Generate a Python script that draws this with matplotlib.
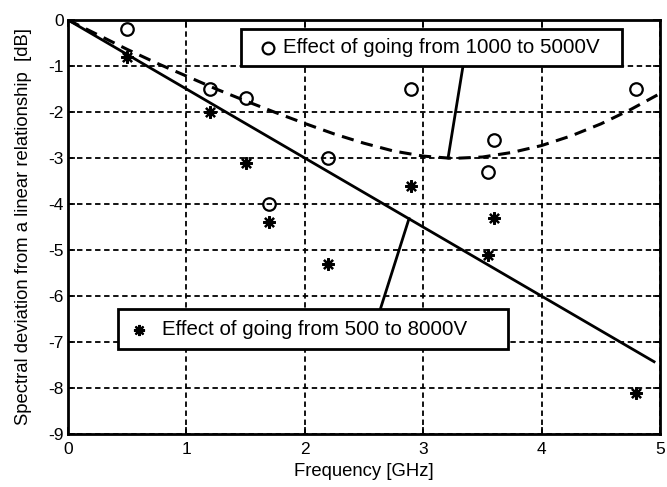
import numpy as np
import matplotlib.pyplot as plt

plt.rcParams['font.family'] = ['Liberation Sans', 'DejaVu Sans']
plt.rcParams['axes.unicode_minus'] = False  # plain hyphen minus like the original

# 1000 -> 5000V (circles)
freq_a = [0.5, 1.2, 1.5, 1.7, 2.2, 2.9, 3.55, 3.6, 4.8]
dev_a = [-0.2, -1.5, -1.7, -4.0, -3.0, -1.5, -3.3, -2.6, -1.5]
# 500 -> 8000V (stars)
freq_b = [0.5, 1.2, 1.5, 1.7, 2.2, 2.9, 3.55, 3.6, 4.8]
dev_b = [-0.8, -2.0, -3.1, -4.4, -5.3, -3.6, -5.1, -4.3, -8.1]

# fitted curves
curve_a_x = [0, 0.25, 0.5, 0.75, 1.0, 1.25, 1.5, 1.75, 2.0, 2.25, 2.5,
             2.75, 3.0, 3.25, 3.5, 3.75, 4.0, 4.25, 4.5, 4.75, 5.0]
curve_a_y = [0, -0.32, -0.64, -0.94, -1.22, -1.50, -1.76, -2.01, -2.25, -2.48, -2.68,
             -2.85, -2.96, -3.01, -2.98, -2.88, -2.73, -2.52, -2.26, -1.95, -1.60]
line_b_x = [0, 4.95]
line_b_y = [0, -7.43]

fig = plt.figure(figsize=(6.67, 4.87), dpi=100)
ax = fig.add_axes([0.102, 0.109, 0.8875, 0.85])

ax.plot(curve_a_x, curve_a_y, color='black', lw=2.2, dashes=(4, 2.5))
ax.plot(line_b_x, line_b_y, color='black', lw=2)
ax.plot(freq_a, dev_a, 'o', mfc='none', mec='black', ms=9, mew=1.6)
ax.plot(freq_b, dev_b, ls='none', marker=(8, 2, 0), color='black', ms=9, mew=1.6)

ax.set_xlim(0, 5)
ax.set_ylim(-9, 0)
ax.set_xticks(np.arange(0, 6, 1))
ax.set_yticks(np.arange(-9, 1, 1))
ax.grid(True, color='black', ls=(0, (3, 2)), lw=1.3)
ax.tick_params(direction='in', top=True, right=True, length=5, width=1.2,
               labelsize=12.5, pad=3)
ax.tick_params(axis='x', pad=6)
for s in ax.spines.values():
    s.set_linewidth(2)

ax.set_xlabel('Frequency [GHz]', fontsize=13.3, labelpad=4)
ax.set_ylabel('Spectral deviation from a linear relationship  [dB]', fontsize=13.3, labelpad=12)

# annotation boxes
ax.plot([3.34, 3.21], [-0.94, -3.0], color='black', lw=2)
ax.plot([2.64, 2.88], [-6.27, -4.32], color='black', lw=2)

box1 = plt.Rectangle((1.46, -1.01), 4.68 - 1.46, 0.81, fc='white', ec='black', lw=2, zorder=5)
box2 = plt.Rectangle((0.426, -7.16), 3.72 - 0.426, 0.87, fc='white', ec='black', lw=2, zorder=5)
ax.add_patch(box1)
ax.add_patch(box2)
ax.plot([1.69], [-0.6], 'o', mfc='none', mec='black', ms=8.5, mew=1.6, zorder=6)
ax.text(1.815, -0.6, 'Effect of going from 1000 to 5000V', fontsize=14.8, va='center', zorder=6)
ax.plot([0.6], [-6.73], ls='none', marker=(8, 2, 0), color='black', ms=8, mew=1.6, zorder=6)
ax.text(0.79, -6.73, 'Effect of going from 500 to 8000V', fontsize=14.8, va='center', zorder=6)

fig.savefig('out.png', dpi=100)
